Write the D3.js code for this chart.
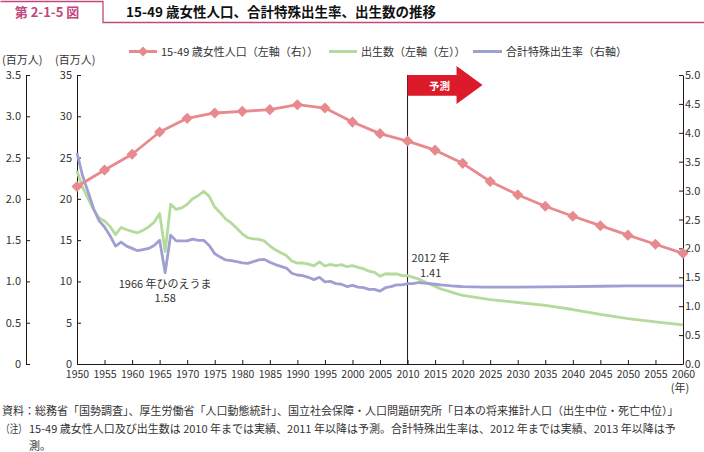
<!DOCTYPE html>
<html><head><meta charset="utf-8">
<script src="https://cdn.jsdelivr.net/npm/d3@7"></script>
<style>
body{margin:0;background:#fff;}
svg{display:block;font-family:"Noto Sans CJK JP","Noto Sans",sans-serif;}
</style></head><body>
<svg id="c" width="704" height="452"></svg>
<script>
// ---- data ----
const popYears = [1950,1955,1960,1965,1970,1975,1980,1985,1990,1995,2000,2005,2010,2015,2020,2025,2030,2035,2040,2045,2050,2055,2060];
const popValues = [21.5,23.5,25.4,28.1,29.75,30.4,30.6,30.8,31.4,31.0,29.3,27.9,27.0,25.9,24.3,22.1,20.5,19.1,17.9,16.75,15.6,14.5,13.4];

const birthYears = [1950,1951,1952,1953,1954,1955,1956,1957,1958,1959,1960,1961,1962,1963,1964,1965,1966,1967,1968,1969,1970,1971,1972,1973,1974,1975,1976,1977,1978,1979,1980,1981,1982,1983,1984,1985,1986,1987,1988,1989,1990,1991,1992,1993,1994,1995,1996,1997,1998,1999,2000,2001,2002,2003,2004,2005,2006,2007,2008,2009,2010,
  2011,2012,2013,2014,2015,2016,2017,2018,2019,2020,2025,2030,2035,2040,2045,2050,2055,2060];
const birthValues = [2.338,2.138,2.005,1.868,1.770,1.731,1.665,1.567,1.653,1.626,1.606,1.589,1.619,1.660,1.717,1.824,1.361,1.936,1.872,1.890,1.934,2.001,2.039,2.092,2.030,1.901,1.833,1.755,1.709,1.643,1.577,1.529,1.515,1.509,1.490,1.432,1.383,1.347,1.314,1.247,1.222,1.223,1.209,1.188,1.238,1.187,1.207,1.192,1.203,1.178,1.191,1.171,1.154,1.124,1.111,1.063,1.093,1.090,1.091,1.070,1.071,
  1.05,1.03,1.00,0.97,0.94,0.91,0.89,0.87,0.85,0.83,0.78,0.745,0.71,0.66,0.60,0.55,0.51,0.475];

const tfrYears = [1950,1951,1952,1953,1954,1955,1956,1957,1958,1959,1960,1961,1962,1963,1964,1965,1966,1967,1968,1969,1970,1971,1972,1973,1974,1975,1976,1977,1978,1979,1980,1981,1982,1983,1984,1985,1986,1987,1988,1989,1990,1991,1992,1993,1994,1995,1996,1997,1998,1999,2000,2001,2002,2003,2004,2005,2006,2007,2008,2009,2010,2011,2012,
  2013,2014,2015,2016,2017,2018,2019,2020,2022,2024,2025,2030,2035,2040,2045,2050,2055,2060];
const tfrValues = [3.65,3.26,2.98,2.69,2.48,2.37,2.22,2.04,2.11,2.04,2.00,1.96,1.98,2.00,2.05,2.14,1.58,2.23,2.13,2.13,2.13,2.16,2.14,2.14,2.05,1.91,1.85,1.80,1.79,1.77,1.75,1.74,1.77,1.80,1.81,1.76,1.72,1.69,1.66,1.57,1.54,1.53,1.50,1.46,1.50,1.42,1.43,1.39,1.38,1.34,1.36,1.33,1.32,1.29,1.29,1.26,1.32,1.34,1.37,1.37,1.39,1.39,1.41,
  1.40,1.39,1.38,1.37,1.36,1.35,1.345,1.34,1.335,1.33,1.33,1.33,1.335,1.34,1.345,1.35,1.35,1.35];

const xTicks = d3.range(1950, 2061, 5);
const birthTicks = [0,0.5,1.0,1.5,2.0,2.5,3.0,3.5];
const popTicks = [0,5,10,15,20,25,30,35];
const tfrTicks = [0,0.5,1.0,1.5,2.0,2.5,3.0,3.5,4.0,4.5,5.0];

const legendLabels = ["15-49 歳女性人口（左軸（右））","出生数（左軸（左））","合計特殊出生率（右軸）"];
const titleTag = "第 2-1-5 図";
const titleText = "15-49 歳女性人口、合計特殊出生率、出生数の推移";
const note1 = "資料：総務省「国勢調査」、厚生労働省「人口動態統計」、国立社会保障・人口問題研究所「日本の将来推計人口（出生中位・死亡中位）」";
const note2a = "（注）";
const note2b = "15-49 歳女性人口及び出生数は 2010 年までは実績、2011 年以降は予測。合計特殊出生率は、2012 年までは実績、2013 年以降は予";
const note3 = "測。";

// ---- styles ----
const cPink = "#e8898e", cGreen = "#b4da9c", cPurple = "#a09fd3", cHead = "#c2477d", cRed = "#dc1a2a";
const txt = "#333";

const svg = d3.select("#c");
const x = d3.scaleLinear([1950, 2060], [77, 683]);
const yPop = d3.scaleLinear([0, 35], [364, 75]);
const yBirth = d3.scaleLinear([0, 3.5], [364, 75]);
const yTfr = d3.scaleLinear([0, 5], [364, 75]);

// header
svg.append("path").attr("d","M0.5,1.5 H103 V22.5 H704").attr("fill","none").attr("stroke",cHead).attr("stroke-width",1.3);
svg.append("text").attr("x",47).attr("y",17).attr("text-anchor","middle").attr("font-size",13).attr("font-weight","bold").attr("fill",cHead).text(titleTag);
svg.append("text").attr("x",126).attr("y",17).attr("font-size",13.5).attr("font-weight","bold").attr("fill","#111").text(titleText);

// legend
const legY = 51.5;
const leg = [{x1:129,x2:157,c:cPink,m:true},{x1:329,x2:357,c:cGreen},{x1:473,x2:502,c:cPurple}];
leg.forEach((l,i)=>{
  svg.append("line").attr("x1",l.x1).attr("x2",l.x2).attr("y1",legY).attr("y2",legY).attr("stroke",l.c).attr("stroke-width",3);
  if(l.m) svg.append("path").attr("d",d3.symbol(d3.symbolSquare,50)()).attr("transform",`translate(${(l.x1+l.x2)/2},${legY}) rotate(45)`).attr("fill",l.c);
  svg.append("text").attr("x",l.x2+4).attr("y",legY+4).attr("font-size",11).attr("fill",txt).text(legendLabels[i]);
});

// axes
function styleAxis(g){
  g.selectAll("path.domain").attr("stroke","#231815").attr("stroke-width",1);
  g.selectAll(".tick line").attr("stroke","#231815");
  g.selectAll("text").attr("fill",txt).attr("font-size",11).attr("font-family",'"Noto Sans CJK JP","Noto Sans",sans-serif');
}
const gB = svg.append("g").attr("transform","translate(26,0)")
  .call(d3.axisLeft(yBirth).tickValues(birthTicks).tickSizeInner(-4).tickSizeOuter(0).tickPadding(5).tickFormat(d=>d===0?"0":d.toFixed(1)));
styleAxis(gB);
const gP = svg.append("g").attr("transform","translate(77,0)")
  .call(d3.axisLeft(yPop).tickValues(popTicks).tickSizeInner(-4).tickSizeOuter(0).tickPadding(5).tickFormat(d3.format("d")));
styleAxis(gP);
const gT = svg.append("g").attr("transform","translate(683,0)")
  .call(d3.axisRight(yTfr).tickValues(tfrTicks).tickSizeInner(-4).tickSizeOuter(0).tickPadding(2).tickFormat(d=>d.toFixed(1)));
styleAxis(gT);
const gX = svg.append("g").attr("transform","translate(0,364)")
  .call(d3.axisBottom(x).tickValues(xTicks).tickSizeInner(-4).tickSizeOuter(0).tickPadding(7).tickFormat(d3.format("d")));
styleAxis(gX);
gX.selectAll("text").attr("font-size",10.5);

svg.append("text").attr("x",2).attr("y",64).attr("font-size",11).attr("fill",txt).text("(百万人)");
svg.append("text").attr("x",55).attr("y",64).attr("font-size",11).attr("fill",txt).text("(百万人)");
svg.append("text").attr("x",680).attr("y",392).attr("text-anchor","middle").attr("font-size",11).attr("fill",txt).text("(年)");

// forecast line & arrow
svg.append("line").attr("x1",x(2010)).attr("x2",x(2010)).attr("y1",75).attr("y2",364).attr("stroke","#231815").attr("stroke-width",1);
const ax = x(2010);
svg.append("path").attr("d",`M${ax},75 H${ax+49} V66 L${ax+75},85 L${ax+49},104 V95.7 H${ax} Z`).attr("fill",cRed);
svg.append("text").attr("x",ax+32).attr("y",89.5).attr("text-anchor","middle").attr("font-size",10.5).attr("font-weight","bold").attr("fill","#fff").text("予測");

// lines
const line = (xs, ys, yS) => d3.line().x((d,i)=>x(xs[i])).y(d=>yS(d))(ys);
svg.append("path").attr("d",line(birthYears,birthValues,yBirth)).attr("fill","none").attr("stroke",cGreen).attr("stroke-width",2.8).attr("stroke-linejoin","round");
svg.append("path").attr("d",line(tfrYears,tfrValues,yTfr)).attr("fill","none").attr("stroke",cPurple).attr("stroke-width",2.8).attr("stroke-linejoin","round");
svg.append("path").attr("d",line(popYears,popValues,yPop)).attr("fill","none").attr("stroke",cPink).attr("stroke-width",2.8).attr("stroke-linejoin","round");
svg.selectAll("path.mk").data(popValues).join("path").attr("class","mk")
  .attr("d",d3.symbol(d3.symbolSquare,62)())
  .attr("transform",(d,i)=>`translate(${x(popYears[i])},${yPop(d)}) rotate(45)`)
  .attr("fill",cPink);

// annotations
svg.append("text").attr("x",x(1966)).attr("y",288).attr("text-anchor","middle").attr("font-size",11).attr("fill",txt).text("1966 年ひのえうま");
svg.append("text").attr("x",x(1966)).attr("y",302).attr("text-anchor","middle").attr("font-size",11).attr("fill",txt).text("1.58");
svg.append("text").attr("x",x(2012)+12).attr("y",262).attr("text-anchor","middle").attr("font-size",11).attr("fill",txt).text("2012 年");
svg.append("text").attr("x",x(2012)+12).attr("y",277).attr("text-anchor","middle").attr("font-size",11).attr("fill",txt).text("1.41");

// notes
function fitText(t, w){ const n=t.node(); if(n.getComputedTextLength()>w) t.attr("textLength",w).attr("lengthAdjust","spacingAndGlyphs"); }
fitText(svg.append("text").attr("x",2).attr("y",415).attr("font-size",11).attr("fill",txt).text(note1), 696);
fitText(svg.append("text").attr("x",1).attr("y",433).attr("font-size",11).attr("fill",txt).text(note2a), 26);
fitText(svg.append("text").attr("x",29).attr("y",433).attr("font-size",11).attr("fill",txt).text(note2b), 673);
svg.append("text").attr("x",29).attr("y",450).attr("font-size",11).attr("fill",txt).text(note3);
</script></body></html>
